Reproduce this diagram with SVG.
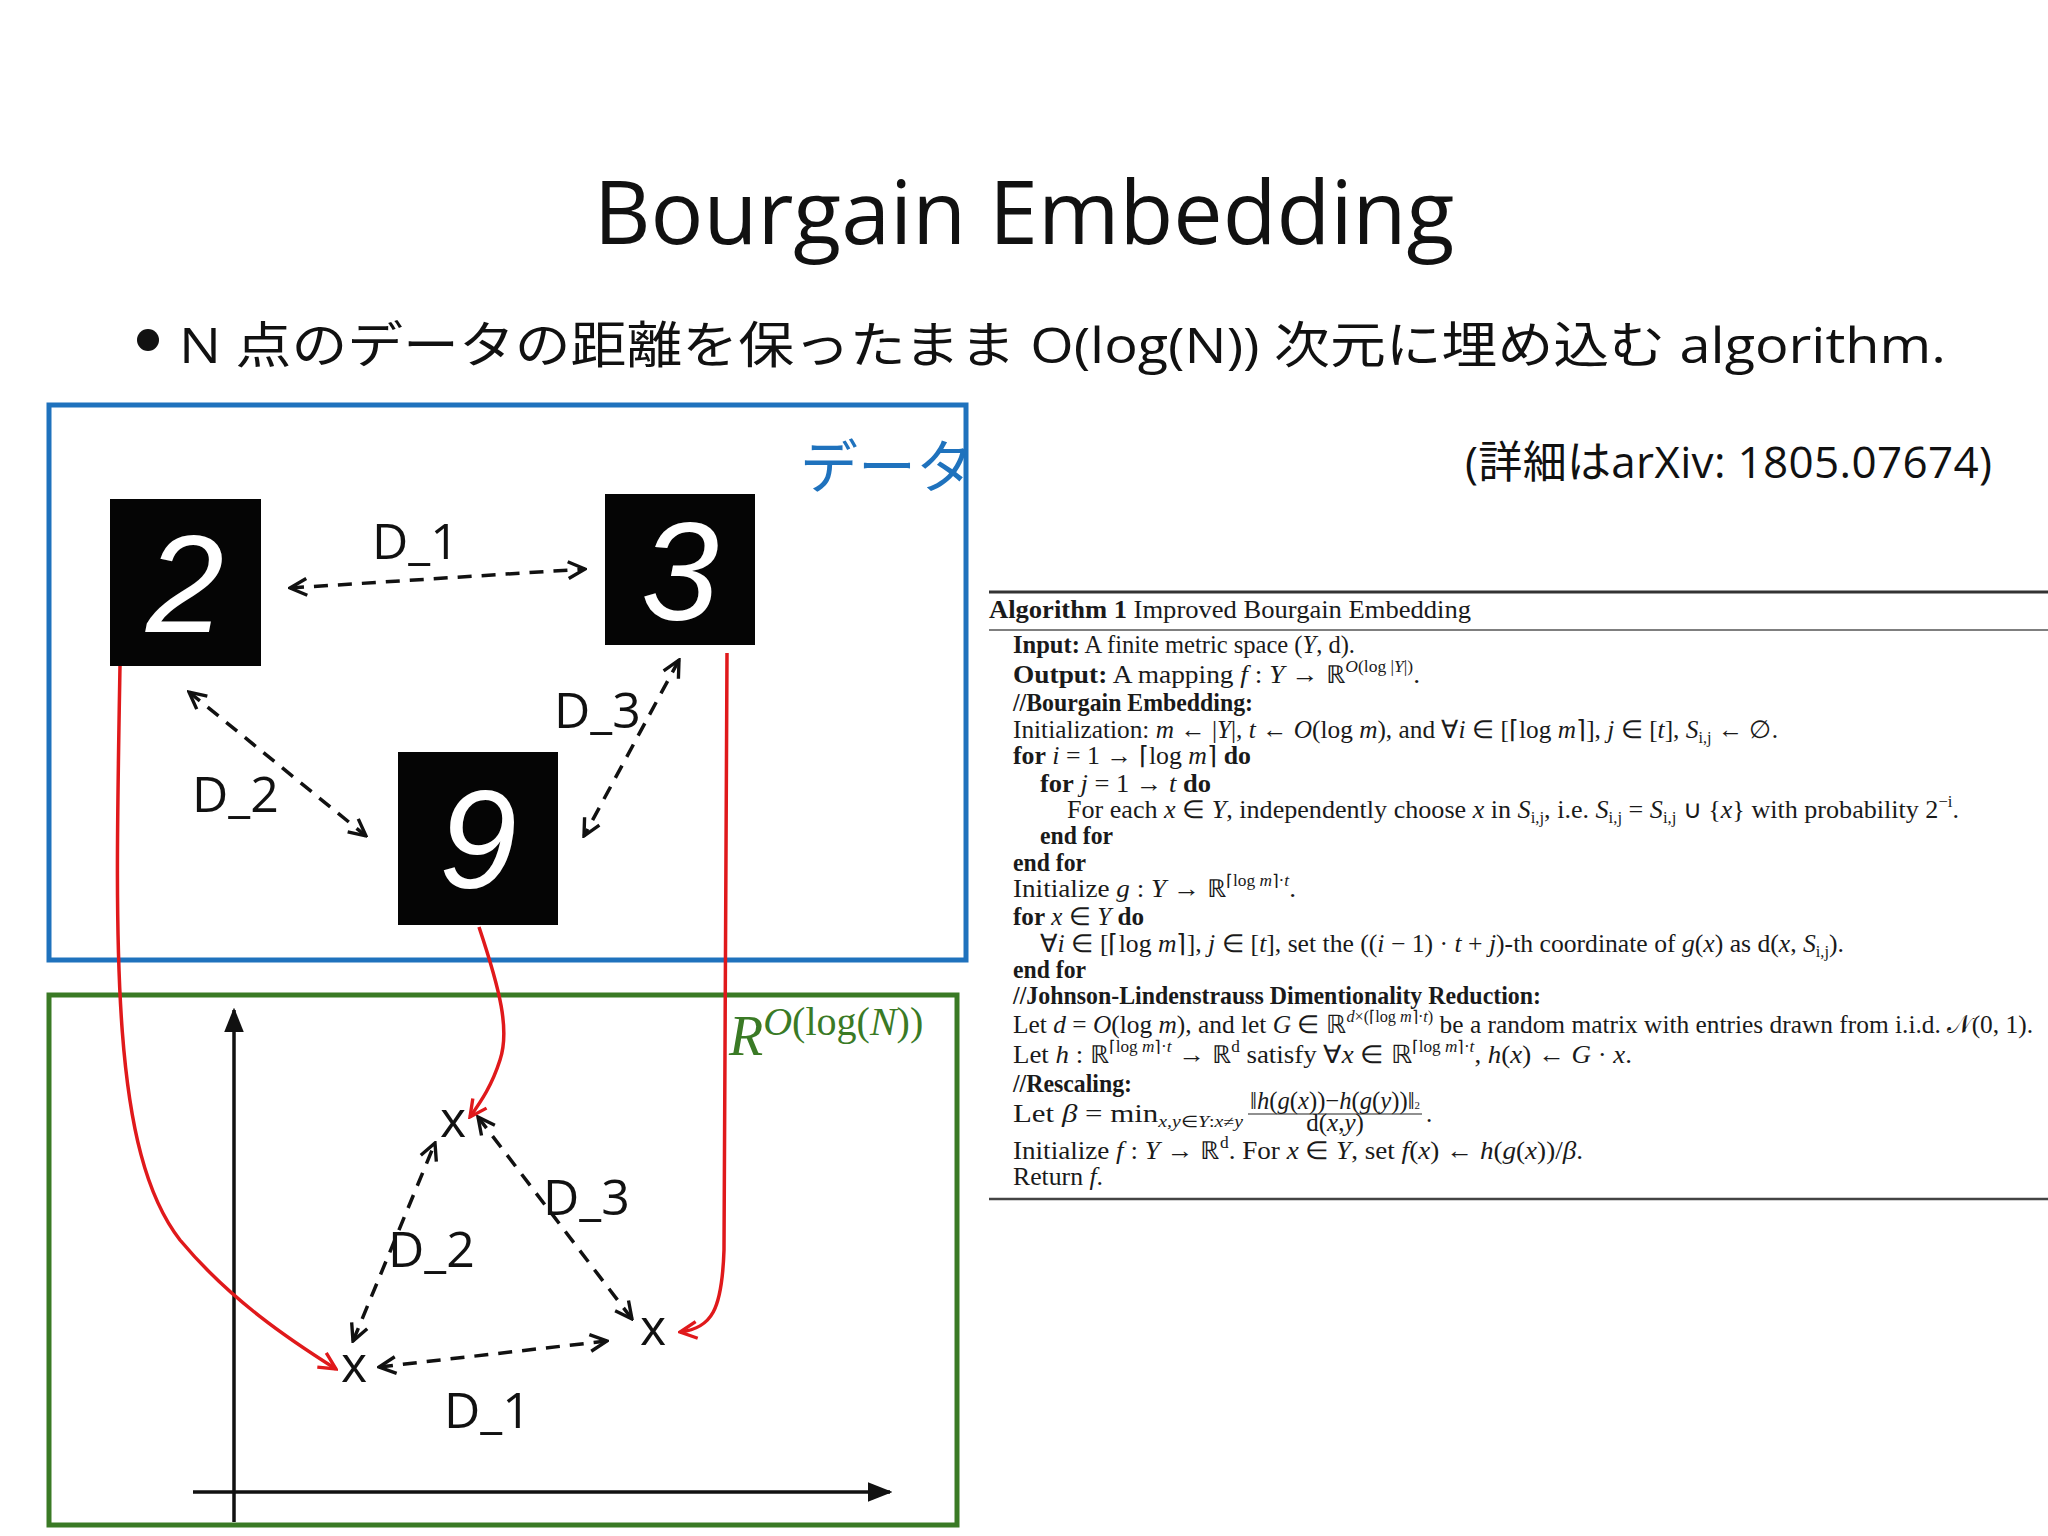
<svg xmlns="http://www.w3.org/2000/svg" width="2048" height="1536" viewBox="0 0 2048 1536">
<style>
.ja{font-family:"Open Sans","Noto Sans CJK JP",sans-serif;fill:#111}
.lbl{font-family:"Open Sans","Liberation Sans",sans-serif;font-size:50px;fill:#111}
.dash{stroke:#111;stroke-width:3.5;stroke-dasharray:14 10;fill:none;marker-start:url(#ah);marker-end:url(#ah)}
.red{stroke:#e0191b;stroke-width:3.5;fill:none;marker-end:url(#ahr)}
.alg{font-family:"Liberation Serif",serif;font-size:25px;fill:#1a1a1a}
.b{font-weight:bold}
.i{font-style:italic}
.sup{font-size:16px}
.dig{font-family:"Liberation Sans",sans-serif;font-size:140px;fill:#fff;text-anchor:middle;font-style:italic}
</style>
<defs>
<marker id="ah" viewBox="0 0 10 10" refX="9" refY="5" markerWidth="6" markerHeight="6" orient="auto-start-reverse" markerUnits="strokeWidth"><path d="M1,1 L9,5 L1,9" fill="none" stroke="#111" stroke-width="1.6"/></marker>
<marker id="ahr" viewBox="0 0 10 10" refX="9" refY="5" markerWidth="6" markerHeight="6" orient="auto" markerUnits="strokeWidth"><path d="M1,1 L9,5 L1,9" fill="none" stroke="#e0191b" stroke-width="1.6"/></marker>
<marker id="ahk" viewBox="0 0 10 10" refX="9" refY="5" markerWidth="7" markerHeight="7" orient="auto" markerUnits="strokeWidth"><path d="M0,1 L10,5 L0,9 z" fill="#111"/></marker>
</defs>
<rect width="2048" height="1536" fill="#fff"/>
<text x="1024" y="244" text-anchor="middle" font-family="Open Sans,Liberation Sans,sans-serif" font-size="88" fill="#111">Bourgain Embedding</text>
<circle cx="148" cy="340" r="11" fill="#111"/>
<text class="ja" x="179" y="363" font-size="50" textLength="1767" lengthAdjust="spacingAndGlyphs">N 点のデータの距離を保ったまま O(log(N)) 次元に埋め込む algorithm.</text>
<text class="ja" x="1465" y="478" font-size="44" textLength="527">(詳細はarXiv: 1805.07674)</text>

<g id="data-box"><rect x="49" y="405" width="917" height="555" fill="none" stroke="#1f72bd" stroke-width="5"/>
<text x="800" y="488" font-family="Noto Sans CJK JP,sans-serif" font-size="58" fill="#1f72bd">データ</text></g>
<g id="space-box"><rect x="49" y="995" width="908" height="530" fill="none" stroke="#3a7a25" stroke-width="5"/>
<text x="729" y="1055" font-family="Liberation Serif,serif" font-size="56" fill="#3a7a25"><tspan font-style="italic">R</tspan><tspan font-size="40" dy="-20"><tspan font-style="italic">O</tspan>(log(<tspan font-style="italic">N</tspan>))</tspan></text></g>

<g id="img2"><rect x="110" y="499" width="151" height="167" fill="#050505"/><text class="dig" x="185" y="632">2</text></g>
<g id="img3"><rect x="605" y="494" width="150" height="151" fill="#050505"/><text class="dig" x="680" y="620">3</text></g>
<g id="img9"><rect x="398" y="752" width="160" height="173" fill="#050505"/><text class="dig" x="478" y="888">9</text></g>

<g id="axes">
<line x1="234" y1="1522" x2="234" y2="1010" stroke="#111" stroke-width="3.5" marker-end="url(#ahk)"/>
<line x1="193" y1="1492" x2="890" y2="1492" stroke="#111" stroke-width="3.5" marker-end="url(#ahk)"/>
</g>
<g id="pt-a"><text class="lbl" x="453" y="1137" text-anchor="middle" font-size="42">x</text></g>
<g id="pt-b"><text class="lbl" x="653" y="1345" text-anchor="middle" font-size="42">x</text></g>
<g id="pt-c"><text class="lbl" x="354" y="1382" text-anchor="middle" font-size="42">x</text></g>

<g id="connectors">
<line class="dash" x1="290" y1="588" x2="585" y2="569"/>
<line class="dash" x1="189" y1="692" x2="366" y2="836"/>
<line class="dash" x1="679" y1="660" x2="584" y2="836"/>
<line class="dash" x1="353" y1="1341" x2="435" y2="1143"/>
<line class="dash" x1="478" y1="1117" x2="632" y2="1319"/>
<line class="dash" x1="379" y1="1367" x2="607" y2="1341"/>
<path class="red" d="M120,666 C115,950 110,1150 180,1240 C230,1300 290,1340 336,1369"/>
<path class="red" d="M727,653 L724,1250 C722,1310 712,1328 680,1332"/>
<path class="red" d="M479,927 C500,990 510,1030 500,1060 C492,1085 482,1100 470,1117"/>
</g>
<g id="labels">
<text class="lbl" x="372" y="559">D_1</text>
<text class="lbl" x="192" y="812">D_2</text>
<text class="lbl" x="554" y="728">D_3</text>
<text class="lbl" x="543" y="1215">D_3</text>
<text class="lbl" x="388" y="1267">D_2</text>
<text class="lbl" x="444" y="1428">D_1</text>
</g>

<g id="algorithm">
<line x1="989" y1="592" x2="2048" y2="592" stroke="#333" stroke-width="3"/>
<line x1="989" y1="630" x2="2048" y2="630" stroke="#555" stroke-width="1.5"/>
<line x1="989" y1="1199" x2="2048" y2="1199" stroke="#444" stroke-width="2.5"/>
<text class="alg" x="989" y="618" font-size="26" textLength="482" lengthAdjust="spacingAndGlyphs"><tspan class="b">Algorithm 1</tspan> Improved Bourgain Embedding</text>
<text class="alg" x="1013" y="653" textLength="342" lengthAdjust="spacingAndGlyphs"><tspan class="b">Input:</tspan> A finite metric space (<tspan class="i">Y</tspan>, d).</text>
<text class="alg" x="1013" y="683" textLength="407" lengthAdjust="spacingAndGlyphs"><tspan class="b">Output:</tspan> A mapping <tspan class="i">f</tspan> : <tspan class="i">Y</tspan> → ℝ<tspan class="sup" dy="-11"><tspan class="i">O</tspan>(log |<tspan class="i">Y</tspan>|)</tspan><tspan dy="11">.</tspan></text>
<text class="alg b" x="1013" y="711" textLength="240" lengthAdjust="spacingAndGlyphs">//Bourgain Embedding:</text>
<text class="alg" x="1013" y="738" textLength="765" lengthAdjust="spacingAndGlyphs">Initialization: <tspan class="i">m</tspan> ← |<tspan class="i">Y</tspan>|, <tspan class="i">t</tspan> ← <tspan class="i">O</tspan>(log <tspan class="i">m</tspan>), and ∀<tspan class="i">i</tspan> ∈ [⌈log <tspan class="i">m</tspan>⌉], <tspan class="i">j</tspan> ∈ [<tspan class="i">t</tspan>], <tspan class="i">S</tspan><tspan class="sup" dy="5">i,j</tspan><tspan dy="-5"> ← ∅.</tspan></text>
<text class="alg" x="1013" y="764" textLength="238" lengthAdjust="spacingAndGlyphs"><tspan class="b">for</tspan> <tspan class="i">i</tspan> = 1 → ⌈log <tspan class="i">m</tspan>⌉ <tspan class="b">do</tspan></text>
<text class="alg" x="1040" y="792" textLength="171" lengthAdjust="spacingAndGlyphs"><tspan class="b">for</tspan> <tspan class="i">j</tspan> = 1 → <tspan class="i">t</tspan> <tspan class="b">do</tspan></text>
<text class="alg" x="1067" y="818" textLength="892" lengthAdjust="spacingAndGlyphs">For each <tspan class="i">x</tspan> ∈ <tspan class="i">Y</tspan>, independently choose <tspan class="i">x</tspan> in <tspan class="i">S</tspan><tspan class="sup" dy="5">i,j</tspan><tspan dy="-5">, i.e. </tspan><tspan class="i">S</tspan><tspan class="sup" dy="5">i,j</tspan><tspan dy="-5"> = </tspan><tspan class="i">S</tspan><tspan class="sup" dy="5">i,j</tspan><tspan dy="-5"> ∪ {<tspan class="i">x</tspan>} with probability 2</tspan><tspan class="sup" dy="-11">−i</tspan><tspan dy="11">.</tspan></text>
<text class="alg b" x="1040" y="844" textLength="73" lengthAdjust="spacingAndGlyphs">end for</text>
<text class="alg b" x="1013" y="871" textLength="73" lengthAdjust="spacingAndGlyphs">end for</text>
<text class="alg" x="1013" y="897" textLength="283" lengthAdjust="spacingAndGlyphs">Initialize <tspan class="i">g</tspan> : <tspan class="i">Y</tspan> → ℝ<tspan class="sup" dy="-11">⌈log <tspan class="i">m</tspan>⌉·<tspan class="i">t</tspan></tspan><tspan dy="11">.</tspan></text>
<text class="alg" x="1013" y="925" textLength="131" lengthAdjust="spacingAndGlyphs"><tspan class="b">for</tspan> <tspan class="i">x</tspan> ∈ <tspan class="i">Y</tspan> <tspan class="b">do</tspan></text>
<text class="alg" x="1040" y="952" textLength="804" lengthAdjust="spacingAndGlyphs">∀<tspan class="i">i</tspan> ∈ [⌈log <tspan class="i">m</tspan>⌉], <tspan class="i">j</tspan> ∈ [<tspan class="i">t</tspan>], set the ((<tspan class="i">i</tspan> − 1) · <tspan class="i">t</tspan> + <tspan class="i">j</tspan>)-th coordinate of <tspan class="i">g</tspan>(<tspan class="i">x</tspan>) as d(<tspan class="i">x</tspan>, <tspan class="i">S</tspan><tspan class="sup" dy="5">i,j</tspan><tspan dy="-5">).</tspan></text>
<text class="alg b" x="1013" y="978" textLength="73" lengthAdjust="spacingAndGlyphs">end for</text>
<text class="alg b" x="1013" y="1004" textLength="528" lengthAdjust="spacingAndGlyphs">//Johnson-Lindenstrauss Dimentionality Reduction:</text>
<text class="alg" x="1013" y="1033" textLength="1020" lengthAdjust="spacingAndGlyphs">Let <tspan class="i">d</tspan> = <tspan class="i">O</tspan>(log <tspan class="i">m</tspan>), and let <tspan class="i">G</tspan> ∈ ℝ<tspan class="sup" dy="-11"><tspan class="i">d</tspan>×(⌈log <tspan class="i">m</tspan>⌉·<tspan class="i">t</tspan>)</tspan><tspan dy="11"> be a random matrix with entries drawn from i.i.d. 𝒩(0, 1).</tspan></text>
<text class="alg" x="1013" y="1063" textLength="619" lengthAdjust="spacingAndGlyphs">Let <tspan class="i">h</tspan> : ℝ<tspan class="sup" dy="-11">⌈log <tspan class="i">m</tspan>⌉·<tspan class="i">t</tspan></tspan><tspan dy="11"> → ℝ</tspan><tspan class="sup" dy="-11">d</tspan><tspan dy="11"> satisfy ∀<tspan class="i">x</tspan> ∈ ℝ</tspan><tspan class="sup" dy="-11">⌈log <tspan class="i">m</tspan>⌉·<tspan class="i">t</tspan></tspan><tspan dy="11">, <tspan class="i">h</tspan>(<tspan class="i">x</tspan>) ← <tspan class="i">G</tspan> · <tspan class="i">x</tspan>.</tspan></text>
<text class="alg b" x="1013" y="1092" textLength="119" lengthAdjust="spacingAndGlyphs">//Rescaling:</text>
<text class="alg" x="1013" y="1122" textLength="230" lengthAdjust="spacingAndGlyphs">Let <tspan class="i">β</tspan> = min<tspan class="sup" dy="5"><tspan class="i">x,y</tspan>∈<tspan class="i">Y</tspan>:<tspan class="i">x</tspan>≠<tspan class="i">y</tspan></tspan></text>
<text class="alg" x="1250" y="1109" font-size="15" textLength="170" lengthAdjust="spacingAndGlyphs">‖<tspan class="i">h</tspan>(<tspan class="i">g</tspan>(<tspan class="i">x</tspan>))−<tspan class="i">h</tspan>(<tspan class="i">g</tspan>(<tspan class="i">y</tspan>))‖<tspan font-size="11">2</tspan></text>
<line x1="1248" y1="1114" x2="1422" y2="1114" stroke="#222" stroke-width="1.2"/>
<text class="alg" x="1335" y="1131" font-size="15" text-anchor="middle">d(<tspan class="i">x</tspan>,<tspan class="i">y</tspan>)</text>
<text class="alg" x="1426" y="1122">.</text>
<text class="alg" x="1013" y="1159" textLength="570" lengthAdjust="spacingAndGlyphs">Initialize <tspan class="i">f</tspan> : <tspan class="i">Y</tspan> → ℝ<tspan class="sup" dy="-11">d</tspan><tspan dy="11">. For <tspan class="i">x</tspan> ∈ <tspan class="i">Y</tspan>, set <tspan class="i">f</tspan>(<tspan class="i">x</tspan>) ← <tspan class="i">h</tspan>(<tspan class="i">g</tspan>(<tspan class="i">x</tspan>))/<tspan class="i">β</tspan>.</tspan></text>
<text class="alg" x="1013" y="1185" textLength="90" lengthAdjust="spacingAndGlyphs">Return <tspan class="i">f</tspan>.</text>
</g>
</svg>
